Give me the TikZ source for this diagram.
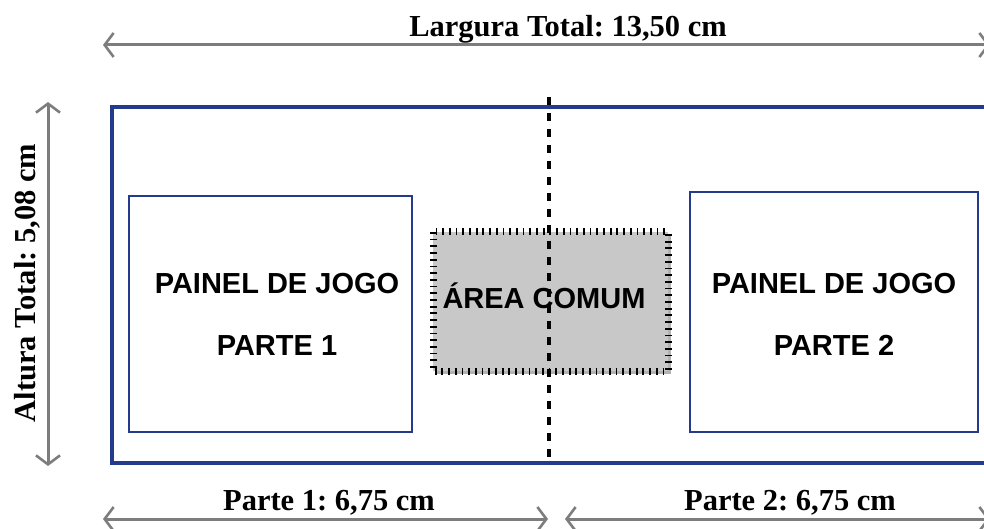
\documentclass[tikz,border=0pt]{standalone}
\usepackage{fontspec}
\setmainfont{Liberation Serif}
\setsansfont{Liberation Sans}
\frenchspacing
\usetikzlibrary{arrows.meta,shadows}
\definecolor{frameblue}{RGB}{36,58,140}
\definecolor{dimgray}{RGB}{125,125,125}
\definecolor{areagray}{RGB}{200,200,200}
\tikzset{
  barb/.tip={Straight Barb[length=9pt,width=24pt,line width=2.6pt]},
  dimarrow/.style={draw=dimgray, line width=3pt, barb-barb},
  dimlabel/.style={font=\fontsize{30.5}{34}\selectfont\bfseries\rmfamily, inner sep=0pt, anchor=base},
  outerframe/.style={draw=frameblue, line width=3.4pt, minimum width=888pt, minimum height=356pt, inner sep=0pt, outer sep=0pt},
  panel/.style={draw=frameblue, line width=2.7pt, fill=white, inner sep=0pt, outer sep=0pt},
  paneltext/.style={font=\fontsize{29}{32}\selectfont\bfseries\sffamily, inner sep=0pt, anchor=base},
  common/.style={fill=areagray, inner sep=0pt, outer sep=0pt, minimum width=235pt, minimum height=139pt,
    drop shadow={shadow xshift=2.5pt, shadow yshift=-2.5pt, opacity=0.3, fill=black}},
  tickborder/.style={draw=black, line width=7pt, dash pattern=on 1.8pt off 4.9pt},
  splitline/.style={draw=black, line width=3.2pt, dash pattern=on 8pt off 8pt},
}
\begin{document}
\begin{tikzpicture}[x=1pt,y=-1pt]
\useasboundingbox (0,0) rectangle (984,529);
% outer frame
\node[outerframe, anchor=north west] (outer) at (112,107) {};
% game panels
\node[panel, minimum width=283pt, minimum height=236pt] (p1) at (270.5,314) {};
\node[panel, minimum width=288pt, minimum height=240pt] (p2) at (834,312) {};
\node[paneltext] (p1a) at (277,293) {PAINEL DE JOGO};
\node[paneltext] (p1b) at (277,355) {PARTE 1};
\node[paneltext] (p2a) at (834,293) {PAINEL DE JOGO};
\node[paneltext] (p2b) at (834,355) {PARTE 2};
% common area
\node[common] (ca) at (550.5,301.5) {};
\draw[tickborder] (ca.north west) rectangle (ca.south east);
\node[paneltext] (catext) at (544,308) {ÁREA COMUM};
% split line
\coordinate (st) at (549,97);
\coordinate (sb) at (549,460);
\draw[splitline] (st) -- (sb);
% total width
\coordinate (tl) at (103,45);
\coordinate (tr) at (990,45);
\draw[dimarrow] (tl) -- (tr);
\node[dimlabel] (wlabel) at (568,37) {Largura Total: 13,50 cm};
% total height
\coordinate (ht) at (48,102);
\coordinate (hb) at (48,466);
\draw[dimarrow] (ht) -- (hb);
\node[dimlabel, rotate=90] (hlabel) at (35,283) {Altura Total: 5,08 cm};
% parts
\coordinate (b1l) at (103,519);
\coordinate (b1r) at (548,519);
\coordinate (b2l) at (565,519);
\coordinate (b2r) at (990,519);
\draw[dimarrow] (b1l) -- (b1r);
\draw[dimarrow] (b2l) -- (b2r);
\node[dimlabel] (l1) at (329,510) {Parte 1: 6,75 cm};
\node[dimlabel] (l2) at (790,510) {Parte 2: 6,75 cm};
\end{tikzpicture}
\end{document}
